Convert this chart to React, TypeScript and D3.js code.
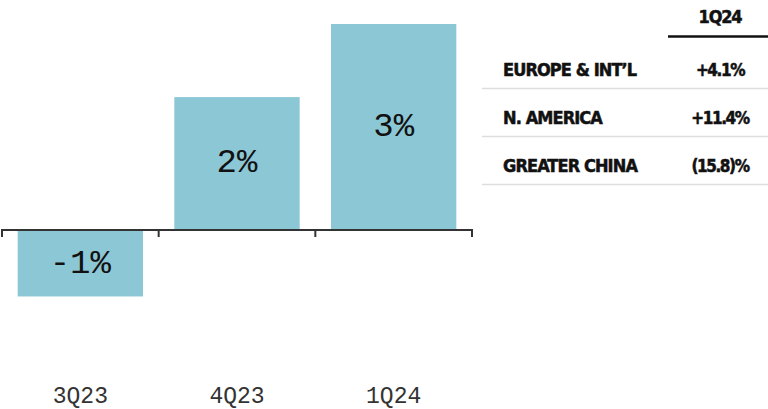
import React from 'react';
import * as d3 from 'd3';

const categories = ['3Q23', '4Q23', '1Q24'];
const values = [-1.0, 2.0, 3.1];
const barLabels = ['-1%', '2%', '3%'];
const tableHeader = '1Q24';
const regions = ['EUROPE & INT\u2019L', 'N. AMERICA', 'GREATER CHINA'];
const regionValues = ['+4.1%', '+11.4%', '(15.8)%'];

const W = 768;
const H = 409;
const BAR = '#8cc7d5';
const AXIS = '#333333';
const HEAD_FONT = '"DejaVu Sans Condensed", "DejaVu Sans", sans-serif';
const MONO = '"Liberation Mono", "DejaVu Sans Mono", monospace';

export default function App() {
  const x = d3.scaleBand<string>().domain(categories).range([2, 472]).paddingInner(0.2).paddingOuter(0.1);
  const y = d3.scaleLinear().domain([0, 3.1]).range([230, 24]);
  const zero = y(0);
  const step = x.step();
  const ticks = categories.map((c) => (x(c) as number) - step * 0.1).concat([472]);

  const rowY = d3.scaleLinear().domain([0, 1]).range([70, 118]);
  const tableLeft = 482;
  const valueX = 720;

  return (
    <svg width={W} height={H} style={{ position: 'absolute', left: 0, top: 0, background: '#fff' }}>
      {categories.map((c, i) => {
        const v = values[i];
        const bx = x(c) as number;
        const top = v >= 0 ? y(v) : zero + 1;
        const bottom = v >= 0 ? zero - 1 : y(v);
        return (
          <g key={c}>
            <rect x={bx} y={top} width={x.bandwidth()} height={bottom - top} fill={BAR} />
            <text
              x={bx + x.bandwidth() / 2}
              y={(top + bottom) / 2}
              textAnchor="middle"
              dominantBaseline="central"
              fontFamily={MONO}
              fontSize={34}
              fill="#111"
            >
              {barLabels[i]}
            </text>
            <text
              x={bx + x.bandwidth() / 2}
              y={403}
              textAnchor="middle"
              fontFamily={MONO}
              fontSize={23}
              fill="#333"
            >
              {c}
            </text>
          </g>
        );
      })}
      <line x1={ticks[0]} x2={ticks[ticks.length - 1]} y1={zero} y2={zero} stroke={AXIS} strokeWidth={2} />
      {ticks.map((t, i) => (
        <line key={i} x1={t} x2={t} y1={zero - 1} y2={zero + 7} stroke={AXIS} strokeWidth={2} />
      ))}

      <text x={valueX} y={23} textAnchor="middle" fontFamily={HEAD_FONT} fontWeight="bold" fontSize={18} letterSpacing={-1.2} fill="#111" stroke="#111" strokeWidth={0.5}>
        {tableHeader}
      </text>
      <line x1={668} x2={W} y1={36.5} y2={36.5} stroke="#111" strokeWidth={2.5} />
      {regions.map((r, i) => {
        const ty = rowY(i) + 6;
        const ly = rowY(i) + 18.5;
        return (
          <g key={r}>
            <text x={503} y={ty} fontFamily={HEAD_FONT} fontWeight="bold" fontSize={18} letterSpacing={-0.9} fill="#111" stroke="#111" strokeWidth={0.5}>
              {r}
            </text>
            <text x={valueX} y={ty} textAnchor="middle" fontFamily={HEAD_FONT} fontWeight="bold" fontSize={17} letterSpacing={-1.4} fill="#111" stroke="#111" strokeWidth={0.5}>
              {regionValues[i]}
            </text>
            <line x1={tableLeft} x2={W} y1={ly} y2={ly} stroke="#dddddd" strokeWidth={1.5} />
          </g>
        );
      })}
    </svg>
  );
}
